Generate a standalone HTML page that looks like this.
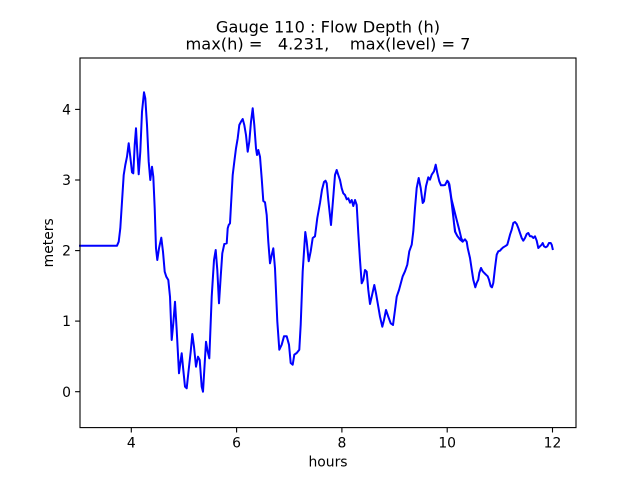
<!DOCTYPE html>
<html><head><meta charset="utf-8"><style>
html,body{margin:0;padding:0;background:#fff;}
svg{display:block;}
text{font-family:"DejaVu Sans","Liberation Sans",sans-serif;fill:#000;}
</style></head><body>
<svg width="640" height="480" viewBox="0 0 640 480" xmlns="http://www.w3.org/2000/svg">
<rect x="0" y="0" width="640" height="480" fill="#fff"/>
<text x="328" y="32.5" font-size="16.2" text-anchor="middle" xml:space="preserve">Gauge 110 : Flow Depth (h)</text>
<text x="328" y="49.5" font-size="16.2" text-anchor="middle" xml:space="preserve" style="white-space:pre">max(h) =   4.231,    max(level) = 7</text>
<polyline fill="none" stroke="#0000ff" stroke-width="2" stroke-linejoin="round" stroke-linecap="square" points="
80,245.7 117,245.7 118.7,241.7 120.3,228.3 122,201.7 123.7,175 125.3,165 127,156.7 128.7,143.3 130.3,156.7 132,172.3 133.3,173.3 134.7,145 136,128.3 137.3,151.7 138.7,174.3 140.3,151.7 142,111.7 144,92.3 145.3,98.3 147,125 148.7,161.7 150.3,180 152,166.7 153.3,176.7 154.7,208.3 156,248.3 157.3,260 159,248.3 161.3,237.7 163,251.7 164.7,271.7 166.3,276.7 168.3,280 170,296.7 171.7,340 173.3,323.3 175,301.7 176.7,330 179,373.3 180.3,363.3 181.7,353.3 183.3,370 185,386.7 186.7,388.3 188.3,373.3 190.7,351.7 192.3,334 194,346.7 196,366.7 198,356.7 199.7,360 201.7,386.7 203,391.7 204.3,370 206,341.7 207.7,351.7 209.3,358.3 211.7,296.7 214,260 215.7,250 217.3,270 219,303.3 220.7,276.7 222.3,253.3 224.3,244 226.7,243.3 227.7,228.3 228.7,225 230,223.3 231,205 232.7,175 234.3,161.7 236,148.3 237.7,138.3 239.3,125 241,121.7 242.7,119 244.3,125 246,135 247.7,151.7 249.3,141.7 251,121.7 252.7,108.3 254.3,125 256,148.3 257,155 258.3,150 260,156.7 261.7,178.3 263.3,201 265,202.3 266.7,215 268.3,241.7 270,263.3 271.7,255 273.3,248.3 275,268.3 277.3,321.3 279.3,349.7 281.7,344.7 284,336.3 286.7,336.3 289,344.7 290.7,363 292.7,364.7 294.3,354.7 296.7,353 299.3,349.7 300.7,324.7 302.7,271.3 305.3,232 306.7,241.3 308.7,261.3 310.7,251.3 312.7,238 315,236.3 317.3,218 320,203 322,189.7 324,182 325.5,180.7 326.7,183.3 328.3,200 331,225 333.3,196.7 335,175 336.7,170 338.3,175 340,180 341.7,188.3 343.3,193.3 345,195 346.7,199.3 348.3,198.3 350,202.7 351.7,200 353.3,206 355,200 356.7,205 358.3,233.3 360,260 361.7,283.3 363.3,280 365,270 366.7,271.7 368.3,290 370,304 371.7,296.7 374.3,285 376,293.3 378.3,306.7 380,316.7 382.3,326.7 384,320 386,310 388.3,316.7 390.7,323.3 393,325 395,310 396.7,296.7 399,290 402.7,276.3 405,271.3 407.3,264.7 409.3,251.3 411.7,244.7 413.3,231.3 415,208 416.7,188 418.7,178 420.7,188 422.7,203 424,201.3 426,186.3 428.3,177.3 430,179.7 431.7,174.7 434,171.3 435.7,164.7 437.3,173 439.3,181.3 441,185.3 443.3,185.3 445,185 447.3,180.7 449.3,184 451.7,203 454,223.3 455,231.7 457.3,236 460,239.3 462.7,241 461.3,238.3 459.3,230 456.7,220 451.7,200 448.3,181.7 449.5,185 452,203 454,223 455.3,232 457.5,236.3 460,239.5 462.7,241.7 465,239.3 466.7,241.7 467.7,248 470,258 472,271.3 473.3,279.7 475.3,287.3 476.7,283 478.3,279.7 479.3,273 481,268 482.7,271.3 484.3,273 486,274.7 487.7,276.3 489,279.7 490.7,286.3 492,287.3 493.3,283 495,268 496.7,254.7 498.3,251.3 500,250.7 501.7,248.7 503.3,247.3 506,245.7 507.3,244.7 508.7,239.7 510,234.7 511.7,229.7 513.3,223 515,222 516.7,224 518.3,228 520,233 521.7,238 523.3,240.7 525,238 526.7,234 528.3,233 530,236.3 531.7,236.3 533.3,238 535,236.3 536.7,240.7 538.3,248 540,246.3 541.7,244.7 542.7,243 544,246.3 545.7,247.3 547.3,246.3 549,243 550.7,243 551.7,244.7 552.7,249"/>
<rect x="80" y="58" width="496" height="369.6" fill="none" stroke="#000" stroke-width="1.1"/>
<g stroke="#000" stroke-width="1.1">
<line x1="80" y1="391.7" x2="75.1" y2="391.7"/>
<line x1="80" y1="321.1" x2="75.1" y2="321.1"/>
<line x1="80" y1="250.6" x2="75.1" y2="250.6"/>
<line x1="80" y1="180" x2="75.1" y2="180"/>
<line x1="80" y1="109.4" x2="75.1" y2="109.4"/>
<line x1="131.3" y1="427.6" x2="131.3" y2="432.5"/>
<line x1="236.6" y1="427.6" x2="236.6" y2="432.5"/>
<line x1="341.9" y1="427.6" x2="341.9" y2="432.5"/>
<line x1="447.2" y1="427.6" x2="447.2" y2="432.5"/>
<line x1="552.5" y1="427.6" x2="552.5" y2="432.5"/>
</g>
<g font-size="13.9" text-anchor="end">
<text x="71" y="396.8">0</text>
<text x="71" y="326.2">1</text>
<text x="71" y="255.7">2</text>
<text x="71" y="185.1">3</text>
<text x="71" y="114.5">4</text>
</g>
<g font-size="13.9" text-anchor="middle">
<text x="131.3" y="447.5">4</text>
<text x="236.6" y="447.5">6</text>
<text x="341.9" y="447.5">8</text>
<text x="447.2" y="447.5">10</text>
<text x="552.5" y="447.5">12</text>
</g>
<text x="328" y="466.5" font-size="13.9" text-anchor="middle">hours</text>
<text transform="translate(53,242.8) rotate(-90)" x="0" y="0" font-size="13.9" text-anchor="middle">meters</text>
</svg>
</body></html>
